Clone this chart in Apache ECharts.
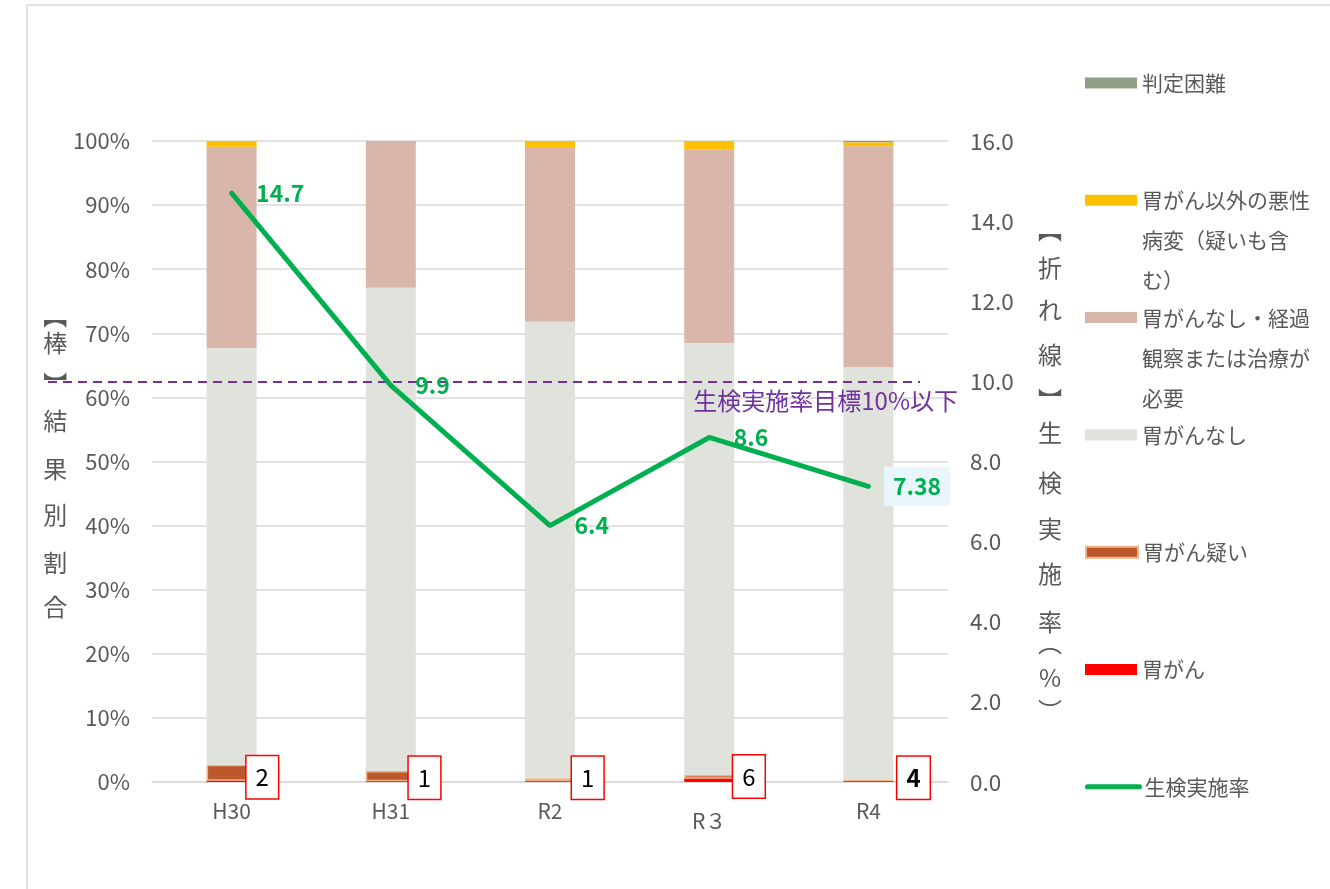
<!DOCTYPE html>
<html><head><meta charset="utf-8">
<script src="https://cdn.jsdelivr.net/npm/echarts@6/dist/echarts.min.js"></script>
<style>html,body{margin:0;padding:0;background:#fff}#c{width:1330px;height:889px}</style>
</head><body><div id="c"></div>
<script>
// ---- data ----
const categories = ['H30', 'H31', 'R2', 'R３', 'R4'];
const cancer = [0.2, 0.1, 0.1, 0.5, 0.1];            // 胃がん (%)
const suspected = [2.5, 1.6, 0.5, 0.6, 0.3];         // 胃がん疑い (%)
const noCancer = [65.0, 75.4, 71.2, 67.4, 64.3];     // 胃がんなし (%)
const followUp = [31.4, 22.9, 27.1, 30.2, 34.5];     // 胃がんなし・経過観察または治療が必要 (%)
const otherMalignant = [0.9, 0, 1.1, 1.3, 0.6];      // 胃がん以外の悪性病変 (%)
const difficult = [0, 0, 0, 0, 0.2];                 // 判定困難 (%)
const biopsyRate = [14.7, 9.9, 6.4, 8.6, 7.38];      // 生検実施率 (%)
const cancerCounts = [2, 1, 1, 6, 4];
const biopsyTarget = 10;
const leftTicks = { min: 0, max: 100, interval: 10 };
const rightTicks = { min: 0, max: 16, interval: 2 };

// ---- presentation ----
const FONT = '"Noto Sans CJK JP", "Noto Sans", sans-serif';
const GREY = '#595959';
const N = {
  difficult: '判定困難',
  other: '胃がん以外の悪性病変（疑いも含む）',
  follow: '胃がんなし・経過観察または治療が必要',
  none: '胃がんなし',
  susp: '胃がん疑い',
  cancer: '胃がん',
  rate: '生検実施率'
};
const legendText = {};
legendText[N.other] = '胃がん以外の悪性\n病変（疑いも含\nむ）';
legendText[N.follow] = '胃がんなし・経過\n観察または治療が\n必要';
const countLabelShift = [-10, -7, -3, -1, 4];
const countBold = [false, false, false, false, true];

const legendOrder = [N.difficult, N.other, N.follow, N.none, N.susp, N.cancer, N.rate];
const LH = 40;
function legendLabel(nm) {
  const t = legendText[nm] || nm;
  const n = t.split('\n').length;
  // empty lines above so the vertically centred icon lines up with the first line
  return '\n'.repeat(n - 1) + t;
}
const legends = legendOrder.map((name, i) => {
  const n = legendLabel(name).split('\n').length;
  const boxH = n * LH;
  const cy = 83 + i * 117.3;
  const lg = {
    orient: 'vertical', left: 1085, top: cy - boxH / 2, padding: 0,
    itemWidth: 52, itemHeight: 11, itemGap: 0, selectedMode: false,
    icon: name === N.rate ? undefined : 'rect',
    data: [name],
    formatter: legendLabel,
    textStyle: {
      fontFamily: FONT, fontSize: 21, color: GREY, lineHeight: LH,
      backgroundColor: 'rgba(0,0,0,0)'
    }
  };
  if (name === N.rate) {
    lg.lineStyle = { width: 5, cap: 'round' };
    lg.itemStyle = { opacity: 0 };
  }
  return lg;
});

// vertical axis titles: one character per line, glyph spacing like the original
function tok(lh, extra) {
  return Object.assign({ fontSize: 24, lineHeight: lh, color: GREY, fontFamily: FONT, align: 'center' }, extra || {});
}
function verticalName(chars, centers, mid) {
  const n = chars.length, d = [];
  for (let i = 0; i < n - 1; i++) d.push(centers[i + 1] - centers[i]);
  const rich = {}, lines = [];
  for (let i = 0; i < n; i++) {
    const prev = i > 0 ? d[i - 1] : d[0];
    const next = i < n - 1 ? d[i] : d[n - 2];
    const lh = (prev + next) / 2;
    const off = -(next - prev) / 4;
    const pad = off > 0 ? [2 * off, 0, 0, 0] : [0, 0, -2 * off, 0];
    rich['t' + i] = tok(lh, { padding: pad });
    lines.push('{t' + i + '|' + chars[i] + '}');
  }
  const top = centers[0] - d[0] / 2, bottom = centers[n - 1] + d[n - 2] / 2;
  const c = (top + bottom) / 2;
  if (c > mid) { rich.sp = tok(2 * (c - mid), { fontSize: 8 }); lines.unshift('{sp| }'); }
  else if (c < mid) { rich.sp = tok(2 * (mid - c), { fontSize: 8 }); lines.push('{sp| }'); }
  return { text: lines.join('\n'), rich };
}
const GRID_MID = (141 + 782) / 2;
const leftName = verticalName(['︻', '棒', '︼', '結', '果', '別', '割', '合'],
  [316, 343, 384, 421, 469, 515, 563, 607], GRID_MID);
const rightName = verticalName(['︻', '折', 'れ', '線', '︼', '生', '検', '実', '施', '率', '︵', '%', '︶'],
  [230, 268, 310, 355, 400, 433, 483, 529, 574, 622, 643, 678, 711], GRID_MID);

function barSeries(name, data, color, extra) {
  return Object.assign({
    name, type: 'bar', stack: 'total', barWidth: 50, yAxisIndex: 0,
    itemStyle: { color }, data
  }, extra || {});
}

const option = {
  animation: false,
  backgroundColor: '#fff',
  textStyle: { fontFamily: FONT },
  graphic: [{
    type: 'rect', silent: true,
    shape: { x: 27, y: 5, width: 1400, height: 1000 },
    style: { fill: 'none', stroke: '#d9d9d9', lineWidth: 1.5 }
  }],
  legend: legends,
  grid: { left: 152, right: 382, top: 141, bottom: 107 },
  xAxis: {
    type: 'category', data: categories,
    axisTick: { show: false },
    axisLine: { lineStyle: { color: '#d9d9d9', width: 1.5 } },
    axisLabel: {
      color: GREY, fontSize: 21, fontFamily: FONT, margin: 19,
      formatter: v => (/[^\x00-\x7f]/.test(v) ? '{w|' + v + '}' : v),
      rich: { w: { color: GREY, fontSize: 21, fontFamily: FONT, padding: [10, 0, 0, 0] } }
    }
  },
  yAxis: [{
    type: 'value', min: leftTicks.min, max: leftTicks.max, interval: leftTicks.interval,
    axisLine: { show: false }, axisTick: { show: false },
    splitLine: { lineStyle: { color: '#d9d9d9', width: 1.5 } },
    axisLabel: { color: GREY, fontSize: 22, fontFamily: FONT, margin: 22, formatter: v => v + '%' },
    name: leftName.text, nameLocation: 'middle', nameRotate: 0, nameGap: 96,
    nameTextStyle: {
      align: 'center', verticalAlign: 'middle', color: GREY, fontFamily: FONT,
      rich: leftName.rich
    }
  }, {
    type: 'value', min: rightTicks.min, max: rightTicks.max, interval: rightTicks.interval,
    axisLine: { show: false }, axisTick: { show: false }, splitLine: { show: false },
    axisLabel: { color: GREY, fontSize: 22.5, fontFamily: FONT, margin: 22, formatter: v => v.toFixed(1) },
    name: rightName.text, nameLocation: 'middle', nameRotate: 0, nameGap: 102,
    nameTextStyle: {
      align: 'center', verticalAlign: 'middle', color: GREY, fontFamily: FONT,
      rich: rightName.rich
    }
  }],
  series: [
    barSeries(N.cancer, cancer.map((v, i) => ({
      value: v,
      label: { offset: [countLabelShift[i], -4], fontWeight: countBold[i] ? 'bold' : 'normal' }
    })), '#ff0000', {
      z: 4,
      label: {
        show: true, position: 'right', distance: 0,
        formatter: p => String(cancerCounts[p.dataIndex]),
        color: '#000', fontSize: 24, fontFamily: FONT, lineHeight: 26,
        backgroundColor: '#fff', borderColor: '#ff0000', borderWidth: 1.5, padding: [8, 9, 8, 9]
      }
    }),
    barSeries(N.susp, suspected, '#bb592d', { itemStyle: { color: '#bb592d', borderColor: '#f4b183', borderWidth: 1.5 } }),
    barSeries(N.none, noCancer, '#e0e3db'),
    barSeries(N.follow, followUp, '#d8b7aa'),
    barSeries(N.other, otherMalignant, '#ffc000'),
    barSeries(N.difficult, difficult, '#909e85'),
    {
      name: N.rate, type: 'line', yAxisIndex: 1, z: 5,
      symbol: 'circle', symbolSize: 1, clip: false,
      itemStyle: { color: '#00b050' },
      lineStyle: { color: '#00b050', width: 5, cap: 'round' },
      data: biopsyRate.map((v, i) => (i === biopsyRate.length - 1 ? {
        value: v,
        label: { backgroundColor: '#e9f6fb', padding: [8, 9, 8, 9], distance: 15 }
      } : v)),
      label: {
        show: true, position: 'right', distance: 24,
        color: '#00b050', fontWeight: 'bold', fontSize: 23, fontFamily: FONT
      },
      markLine: {
        silent: true, symbol: 'none',
        lineStyle: { color: '#7030a0', type: [9, 6], width: 2 },
        label: {
          show: true, position: 'insideEndBottom', distance: [-38, 8],
          formatter: '生検実施率目標10%以下', color: '#7030a0', fontSize: 24, fontFamily: FONT
        },
        data: [[{ yAxis: biopsyTarget, x: 48 }, { yAxis: biopsyTarget, x: 920 }]]
      }
    }
  ]
};

const chart = echarts.init(document.getElementById('c'), null, { renderer: 'canvas' });
chart.setOption(option);
</script>
</body></html>
